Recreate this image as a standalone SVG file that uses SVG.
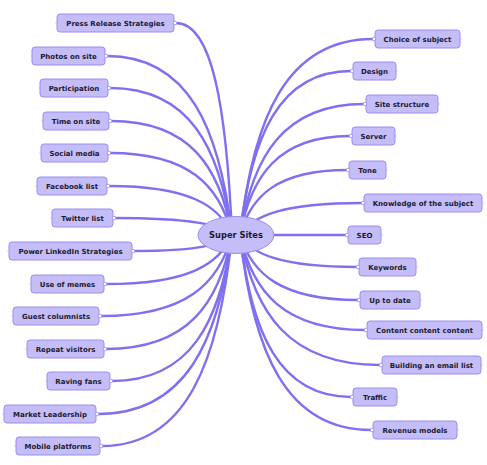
<svg xmlns="http://www.w3.org/2000/svg" width="487" height="465" viewBox="0 0 487 465">
<style>
.bg{fill:#ffffff}
.c{fill:none;stroke:#7f70f2;stroke-width:2.4;stroke-linecap:round}
.b{fill:#c4bdf8;stroke:#9a8ef0;stroke-width:1}
.t{font-family:"DejaVu Sans",Verdana,sans-serif;font-weight:bold;font-size:7px;fill:#1c1a33;text-anchor:middle}
.k{fill:#ffffff;stroke:#9a8ef0;stroke-width:0.8}
.s{stroke:#cfc9f2;stroke-width:0.8}
.root{fill:#c4bdf8;stroke:#9a8ef0;stroke-width:1}
.rt{font-family:"DejaVu Sans",Verdana,sans-serif;font-weight:bold;font-size:8.3px;fill:#1c1a33;text-anchor:middle}
</style>
<rect class="bg" x="0" y="0" width="487" height="465"/>
<g id="connectors">
<path class="c" d="M176,23 C212.4,23 226.4,107.8 232,235"/>
<path class="c" d="M107,56 C188.3,56 219.5,127.6 232,235"/>
<path class="c" d="M110,88 C189.3,88 219.8,146.8 232,235"/>
<path class="c" d="M111,121 C189.7,121 219.9,166.6 232,235"/>
<path class="c" d="M110,153 C189.3,153 219.8,185.8 232,235"/>
<path class="c" d="M109,186 C189,186 219.7,205.6 232,235"/>
<path class="c" d="M115,218 C191,218 220.3,224.8 232,235"/>
<path class="c" d="M134,251 C197.7,251 222.2,244.6 232,235"/>
<path class="c" d="M106,284 C187.9,284 219.4,264.4 232,235"/>
<path class="c" d="M101,316 C186.2,316 218.9,283.6 232,235"/>
<path class="c" d="M106,349 C187.9,349 219.4,303.4 232,235"/>
<path class="c" d="M112,381 C190,381 220,322.6 232,235"/>
<path class="c" d="M98,414 C185.1,414 218.6,342.4 232,235"/>
<path class="c" d="M102,446 C186.5,446 219,361.6 232,235"/>
<path class="c" d="M373,39 C286.6,39 253.3,117.4 240,235"/>
<path class="c" d="M351,71 C278.9,71 251.1,136.6 240,235"/>
<path class="c" d="M364,104 C283.4,104 252.4,156.4 240,235"/>
<path class="c" d="M350,136 C278.5,136 251,175.6 240,235"/>
<path class="c" d="M347,170 C277.5,170 250.7,196 240,235"/>
<path class="c" d="M362,203 C282.7,203 252.2,215.8 240,235"/>
<path class="c" d="M346,235 C277.1,235 250.6,235 240,235"/>
<path class="c" d="M357,267 C281,267 251.7,254.2 240,235"/>
<path class="c" d="M358,300 C281.3,300 251.8,274 240,235"/>
<path class="c" d="M365,330 C283.8,330 252.5,292 240,235"/>
<path class="c" d="M380,365 C289,365 254,313 240,235"/>
<path class="c" d="M351,397 C278.9,397 251.1,332.2 240,235"/>
<path class="c" d="M371,430 C285.9,430 253.1,352 240,235"/>
</g>
<g id="root">
<ellipse class="root" cx="236" cy="235" rx="38" ry="18.5"/>
<text class="rt" x="236" y="238">Super Sites</text>
</g>
<g id="n-press"><line class="s" x1="55" y1="23" x2="57" y2="23"/><rect class="b" x="57" y="14" width="117" height="18" rx="3"/><circle class="k" cx="175" cy="23" r="1.8"/><text class="t" x="115.5" y="25.5">Press Release Strategies</text></g>
<g id="n-photos"><line class="s" x1="30" y1="56" x2="32" y2="56"/><rect class="b" x="32" y="47" width="73" height="18" rx="3"/><circle class="k" cx="106" cy="56" r="1.8"/><text class="t" x="68.5" y="58.5">Photos on site</text></g>
<g id="n-participation"><line class="s" x1="38" y1="88" x2="40" y2="88"/><rect class="b" x="40" y="79" width="68" height="18" rx="3"/><circle class="k" cx="109" cy="88" r="1.8"/><text class="t" x="74" y="90.5">Participation</text></g>
<g id="n-time"><line class="s" x1="41" y1="121" x2="43" y2="121"/><rect class="b" x="43" y="112" width="66" height="18" rx="3"/><circle class="k" cx="110" cy="121" r="1.8"/><text class="t" x="76" y="123.5">Time on site</text></g>
<g id="n-social"><line class="s" x1="39" y1="153" x2="41" y2="153"/><rect class="b" x="41" y="144" width="67" height="18" rx="3"/><circle class="k" cx="109" cy="153" r="1.8"/><text class="t" x="74.5" y="155.5">Social media</text></g>
<g id="n-facebook"><line class="s" x1="35" y1="186" x2="37" y2="186"/><rect class="b" x="37" y="177" width="70" height="18" rx="3"/><circle class="k" cx="108" cy="186" r="1.8"/><text class="t" x="72" y="188.5">Facebook list</text></g>
<g id="n-twitter"><line class="s" x1="50" y1="218" x2="52" y2="218"/><rect class="b" x="52" y="209" width="61" height="18" rx="3"/><circle class="k" cx="114" cy="218" r="1.8"/><text class="t" x="82.5" y="220.5">Twitter list</text></g>
<g id="n-linkedin"><line class="s" x1="7" y1="251" x2="9" y2="251"/><rect class="b" x="9" y="242" width="123" height="18" rx="3"/><circle class="k" cx="133" cy="251" r="1.8"/><text class="t" x="70.5" y="253.5">Power LinkedIn Strategies</text></g>
<g id="n-memes"><line class="s" x1="29" y1="284" x2="31" y2="284"/><rect class="b" x="31" y="275" width="73" height="18" rx="3"/><circle class="k" cx="105" cy="284" r="1.8"/><text class="t" x="67.5" y="286.5">Use of memes</text></g>
<g id="n-guest"><line class="s" x1="11" y1="316" x2="13" y2="316"/><rect class="b" x="13" y="307" width="86" height="18" rx="3"/><circle class="k" cx="100" cy="316" r="1.8"/><text class="t" x="56" y="318.5">Guest columnists</text></g>
<g id="n-repeat"><line class="s" x1="25" y1="349" x2="27" y2="349"/><rect class="b" x="27" y="340" width="77" height="18" rx="3"/><circle class="k" cx="105" cy="349" r="1.8"/><text class="t" x="65.5" y="351.5">Repeat visitors</text></g>
<g id="n-raving"><line class="s" x1="45" y1="381" x2="47" y2="381"/><rect class="b" x="47" y="372" width="63" height="18" rx="3"/><circle class="k" cx="111" cy="381" r="1.8"/><text class="t" x="78.5" y="383.5">Raving fans</text></g>
<g id="n-market"><line class="s" x1="2" y1="414" x2="4" y2="414"/><rect class="b" x="4" y="405" width="92" height="18" rx="3"/><circle class="k" cx="97" cy="414" r="1.8"/><text class="t" x="50" y="416.5">Market Leadership</text></g>
<g id="n-mobile"><line class="s" x1="14" y1="446" x2="16" y2="446"/><rect class="b" x="16" y="437" width="84" height="18" rx="3"/><circle class="k" cx="101" cy="446" r="1.8"/><text class="t" x="58" y="448.5">Mobile platforms</text></g>
<g id="n-choice"><line class="s" x1="460" y1="39" x2="462" y2="39"/><rect class="b" x="375" y="30" width="85" height="18" rx="3"/><circle class="k" cx="374" cy="39" r="1.8"/><text class="t" x="417.5" y="41.5">Choice of subject</text></g>
<g id="n-design"><line class="s" x1="396" y1="71" x2="398" y2="71"/><rect class="b" x="353" y="62" width="43" height="18" rx="3"/><circle class="k" cx="352" cy="71" r="1.8"/><text class="t" x="374.5" y="73.5">Design</text></g>
<g id="n-structure"><line class="s" x1="438" y1="104" x2="440" y2="104"/><rect class="b" x="366" y="95" width="72" height="18" rx="3"/><circle class="k" cx="365" cy="104" r="1.8"/><text class="t" x="402" y="106.5">Site structure</text></g>
<g id="n-server"><line class="s" x1="395" y1="136" x2="397" y2="136"/><rect class="b" x="352" y="127" width="43" height="18" rx="3"/><circle class="k" cx="351" cy="136" r="1.8"/><text class="t" x="373.5" y="138.5">Server</text></g>
<g id="n-tone"><line class="s" x1="386" y1="170" x2="388" y2="170"/><rect class="b" x="349" y="161" width="37" height="18" rx="3"/><circle class="k" cx="348" cy="170" r="1.8"/><text class="t" x="367.5" y="172.5">Tone</text></g>
<g id="n-knowledge"><line class="s" x1="482" y1="203" x2="484" y2="203"/><rect class="b" x="364" y="194" width="118" height="18" rx="3"/><circle class="k" cx="363" cy="203" r="1.8"/><text class="t" x="423" y="205.5">Knowledge of the subject</text></g>
<g id="n-seo"><line class="s" x1="381" y1="235" x2="383" y2="235"/><rect class="b" x="348" y="226" width="33" height="18" rx="3"/><circle class="k" cx="347" cy="235" r="1.8"/><text class="t" x="364.5" y="237.5">SEO</text></g>
<g id="n-keywords"><line class="s" x1="416" y1="267" x2="418" y2="267"/><rect class="b" x="359" y="258" width="57" height="18" rx="3"/><circle class="k" cx="358" cy="267" r="1.8"/><text class="t" x="387.5" y="269.5">Keywords</text></g>
<g id="n-uptodate"><line class="s" x1="420" y1="300" x2="422" y2="300"/><rect class="b" x="360" y="291" width="60" height="18" rx="3"/><circle class="k" cx="359" cy="300" r="1.8"/><text class="t" x="390" y="302.5">Up to date</text></g>
<g id="n-content"><line class="s" x1="482" y1="330" x2="484" y2="330"/><rect class="b" x="367" y="321" width="115" height="18" rx="3"/><circle class="k" cx="366" cy="330" r="1.8"/><text class="t" x="424.5" y="332.5">Content content content</text></g>
<g id="n-email"><line class="s" x1="481" y1="365" x2="483" y2="365"/><rect class="b" x="382" y="356" width="99" height="18" rx="3"/><circle class="k" cx="381" cy="365" r="1.8"/><text class="t" x="431.5" y="367.5">Building an email list</text></g>
<g id="n-traffic"><line class="s" x1="397" y1="397" x2="399" y2="397"/><rect class="b" x="353" y="388" width="44" height="18" rx="3"/><circle class="k" cx="352" cy="397" r="1.8"/><text class="t" x="375" y="399.5">Traffic</text></g>
<g id="n-revenue"><line class="s" x1="457" y1="430" x2="459" y2="430"/><rect class="b" x="373" y="421" width="84" height="18" rx="3"/><circle class="k" cx="372" cy="430" r="1.8"/><text class="t" x="415" y="432.5">Revenue models</text></g>
</svg>
